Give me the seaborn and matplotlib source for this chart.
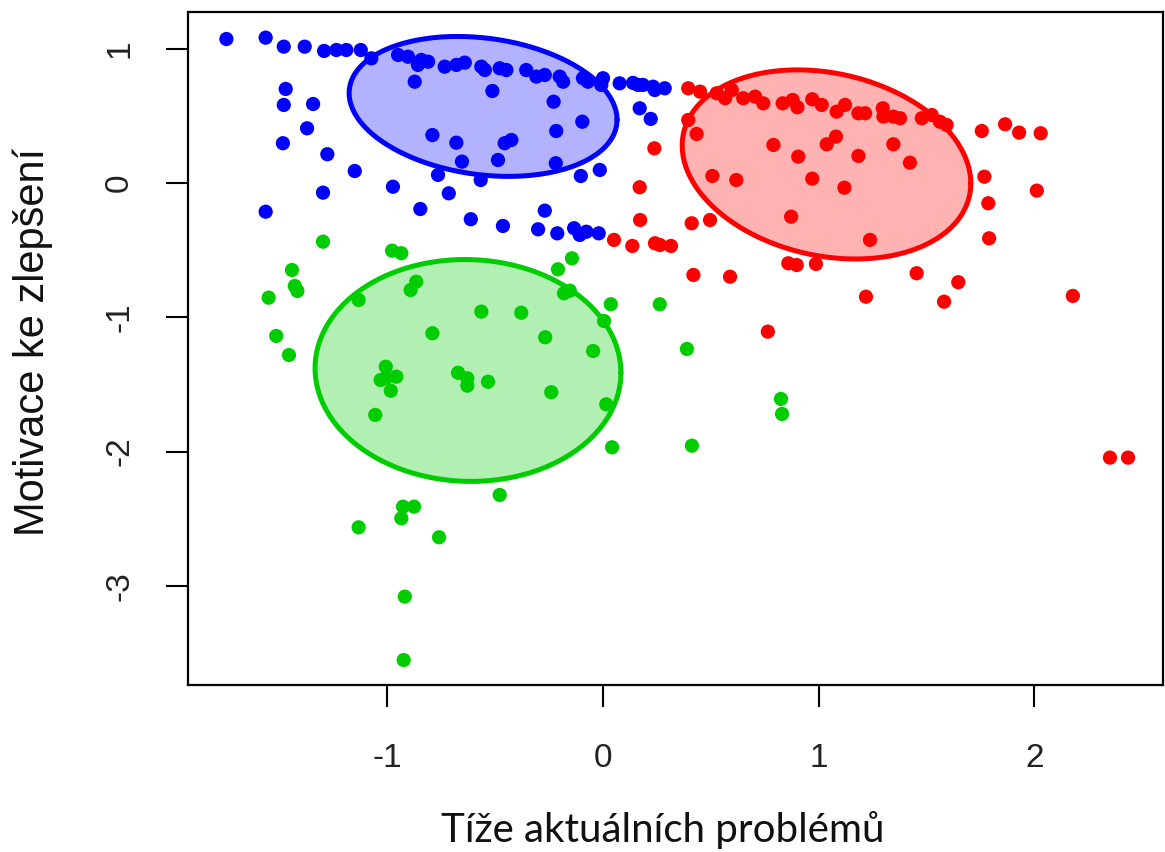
import numpy as np
import pandas as pd
import matplotlib
matplotlib.use("Agg")
import matplotlib.pyplot as plt
import seaborn as sns

# cluster 1 (blue)
blue_x = [-1.746, -1.564, -1.480, -1.383, -1.293, -1.236, -1.190, -1.123, -1.074, -0.950,
          -0.904, -0.842, -0.811, -0.858, -0.734, -0.680, -0.641, -0.564, -0.548, -0.479,
          -0.448, -0.356, -0.309, -0.270, -0.201, -0.185, -0.093, -0.070, 0.000, -0.008,
          0.077, 0.139, 0.162, 0.185, 0.232, 0.240, 0.286, -0.873, -1.471, -1.480,
          -1.344, -0.513, -0.229, -0.096, 0.170, 0.221, -1.372, -0.791, -0.217, -1.484,
          -0.680, -0.456, -0.425, -1.278, -0.654, -0.487, -0.219, -1.151, -0.765, -0.567,
          -0.103, -0.015, -1.298, -0.974, -0.715, -1.564, -0.847, -0.613, -0.464, -0.270,
          -0.301, -0.212, -0.134, -0.108, -0.077, -0.020]
blue_y = [1.072, 1.082, 1.015, 1.015, 0.983, 0.990, 0.990, 0.990, 0.928, 0.953,
          0.940, 0.916, 0.903, 0.879, 0.866, 0.879, 0.896, 0.866, 0.841, 0.854,
          0.841, 0.841, 0.792, 0.804, 0.792, 0.754, 0.780, 0.754, 0.780, 0.730,
          0.742, 0.745, 0.730, 0.730, 0.717, 0.692, 0.705, 0.754, 0.700, 0.581,
          0.588, 0.685, 0.605, 0.456, 0.556, 0.477, 0.407, 0.357, 0.387, 0.296,
          0.300, 0.296, 0.320, 0.214, 0.159, 0.171, 0.147, 0.089, 0.060, 0.022,
          0.052, 0.097, -0.072, -0.028, -0.077, -0.214, -0.194, -0.270, -0.320, -0.206,
          -0.345, -0.375, -0.337, -0.387, -0.363, -0.375]

# cluster 2 (red)
red_x = [0.395, 0.450, 0.527, 0.566, 0.597, 0.650, 0.705, 0.743, 0.833, 0.879,
         0.901, 0.970, 1.014, 1.083, 1.122, 1.184, 1.215, 1.297, 1.300, 1.346,
         1.377, 1.478, 1.524, 1.562, 1.593, 0.395, 0.434, 0.238, 0.790, 0.905,
         1.037, 1.080, 1.184, 1.346, 1.423, 1.756, 1.864, 1.929, 2.029, 0.170,
         0.507, 0.618, 0.970, 1.119, 1.768, 2.011, 1.786, 0.172, 0.411, 0.496,
         0.872, 1.790, 0.051, 0.136, 0.241, 0.264, 0.315, 1.238, 0.859, 0.898,
         0.987, 0.419, 0.589, 1.454, 1.647, 1.219, 1.581, 2.178, 0.764, 2.350,
         2.434]
red_y = [0.705, 0.680, 0.668, 0.631, 0.692, 0.631, 0.643, 0.593, 0.593, 0.618,
         0.564, 0.623, 0.581, 0.531, 0.581, 0.519, 0.519, 0.556, 0.494, 0.494,
         0.482, 0.482, 0.506, 0.456, 0.432, 0.469, 0.365, 0.258, 0.283, 0.196,
         0.288, 0.345, 0.201, 0.288, 0.151, 0.387, 0.437, 0.375, 0.370, -0.032,
         0.052, 0.022, 0.032, -0.035, 0.047, -0.057, -0.151, -0.276, -0.300, -0.276,
         -0.251, -0.412, -0.424, -0.469, -0.449, -0.462, -0.469, -0.424, -0.598, -0.611,
         -0.603, -0.685, -0.698, -0.672, -0.739, -0.847, -0.884, -0.841, -1.107, -2.045,
         -2.045]

# cluster 3 (green)
green_x = [-1.298, -0.978, -0.935, -1.442, -1.429, -1.417, -1.550, -1.133, -0.866, -0.892,
           -0.564, -0.379, -0.209, -0.144, -0.181, -0.154, 0.036, 0.263, 0.005, -1.515,
           -1.456, -0.791, -0.268, -0.046, -1.007, -1.031, -0.958, -0.984, -1.006, -0.672,
           -0.629, -0.629, -0.533, -0.240, -1.056, 0.015, 0.042, 0.389, 0.825, 0.830,
           0.412, -0.479, -0.927, -0.876, -0.935, -1.133, -0.760, -0.919, -0.924]
green_y = [-0.437, -0.504, -0.523, -0.648, -0.767, -0.804, -0.854, -0.871, -0.735, -0.797,
           -0.958, -0.966, -0.643, -0.561, -0.821, -0.802, -0.903, -0.903, -1.028, -1.139,
           -1.281, -1.119, -1.149, -1.251, -1.368, -1.467, -1.442, -1.547, -1.452, -1.413,
           -1.454, -1.509, -1.480, -1.558, -1.727, -1.648, -1.968, -1.236, -1.608, -1.720,
           -1.956, -2.323, -2.410, -2.410, -2.497, -2.564, -2.638, -3.080, -3.552]

# ellipses: centre x, centre y, half-width, half-height, correlation
ell_cluster = ["blue", "red", "green"]
ell_cx = [-0.556, 1.036, -0.626]
ell_cy = [0.570, 0.138, -1.396]
ell_sx = [0.621, 0.669, 0.709]
ell_sy = [0.521, 0.704, 0.826]
ell_r = [-0.19, -0.20, -0.02]

colors = {"blue": "#0000FF", "red": "#FF0000", "green": "#00CD00"}

x_ticks = [-1, 0, 1, 2]
y_ticks = [1, 0, -1, -2, -3]

df = pd.DataFrame({
    "x": blue_x + red_x + green_x,
    "y": blue_y + red_y + green_y,
    "cluster": ["blue"] * len(blue_x) + ["red"] * len(red_x) + ["green"] * len(green_x),
})

sns.set_theme(style="white")
plt.rcParams["font.family"] = ["Liberation Sans", "DejaVu Sans"]

fig = plt.figure(figsize=(11.65, 8.52), dpi=100)
ax = fig.add_axes([188 / 1165, 1 - 685 / 852, 975 / 1165, 673 / 852])

t = np.linspace(0, 2 * np.pi, 300)
for name, cx, cy, sx, sy, r in zip(ell_cluster, ell_cx, ell_cy, ell_sx, ell_sy, ell_r):
    ex = cx + sx * np.cos(t)
    ey = cy + sy * (r * np.cos(t) + np.sqrt(1 - r ** 2) * np.sin(t))
    ax.fill(ex, ey, color=colors[name], alpha=0.3, lw=0, zorder=1)
    ax.plot(ex, ey, color=colors[name], lw=3.6, zorder=2)

sns.scatterplot(data=df, x="x", y="y", hue="cluster", palette=colors, s=105,
                linewidth=0, legend=False, ax=ax, zorder=3)

ax.set_xlim(-1.924, 2.596)
ax.set_ylim(-3.738, 1.273)
ax.set_xticks(x_ticks)
ax.set_yticks(y_ticks)
ax.set_xticklabels([str(v) for v in x_ticks])
ax.set_yticklabels([str(v) for v in y_ticks], rotation=90, va="center")

ax.tick_params(axis="both", which="major", length=16, width=1.5, color="black",
               labelsize=24, labelcolor="#222222", bottom=True, left=True)
ax.tick_params(axis="x", pad=26)
ax.tick_params(axis="y", pad=22)
for side in ax.spines.values():
    side.set_color("black")
    side.set_linewidth(1.6)

ax.set_xlabel("Tíže aktuálních problémů", fontsize=29, family=["Lato", "DejaVu Sans"],
              color="#111111")
ax.xaxis.label.set_va("center")
ax.xaxis.set_label_coords(0.487, -0.215)
ax.set_ylabel("Motivace ke zlepšení", fontsize=30, color="#111111")
ax.yaxis.label.set_va("center")
ax.yaxis.set_label_coords(-0.159, 0.51)

fig.savefig("out.png", dpi=100)
